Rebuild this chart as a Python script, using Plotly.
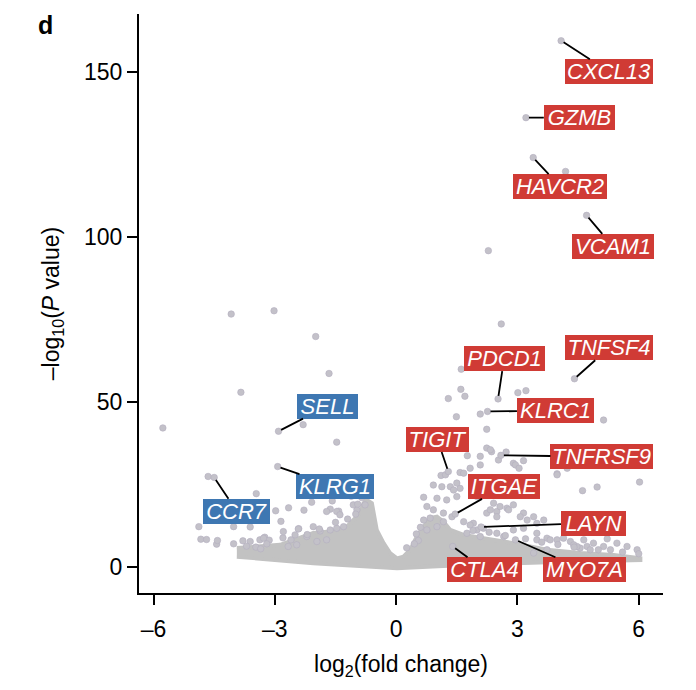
import plotly.graph_objects as go

# ---------------- data ----------------
# dense background cloud of non-significant genes (outline: upper edge then lower edge)
cloud_x = [-3.94, -2.87, -2.05, -1.63, -1.22, -0.89, -0.81, -0.73, -0.60, -0.54, -0.48, -0.31,
           -0.15, 0.02, 0.18, 0.35, 0.51, 0.68, 0.84, 1.01, 1.17, 1.34, 1.67, 2.16, 2.90, 3.73,
           4.55, 5.38, 6.04, 6.04, 4.14, 1.67, 0.02, -2.05, -3.94]
cloud_y = [5.7, 6.7, 10.3, 10.7, 12.2, 16.3, 19.3, 20.3, 19.3, 15.2, 11.2, 7.2,
           4.2, 2.6, 3.1, 5.2, 9.2, 12.2, 14.8, 15.2, 13.7, 11.2, 9.7, 8.7, 7.2, 5.2,
           4.2, 3.6, 2.6, 2.1, 1.6, 0.6, -0.4, 1.1, 3.1]

# individual genes (log2 fold change, -log10 P)
gene_x = [4.19, 2.28, 2.60, 1.61, 1.60, 1.70, 1.29, 3.01, 3.21, 2.08, 1.49, 5.13, 2.24, 2.24,
          2.36, 2.72, 2.08, 1.76, 1.11, 1.22, 1.58, 2.90, 3.15, 3.98, 6.02, 4.61, 4.97, 0.68,
          0.92, 1.01, 1.25, 1.50, 1.34, 1.58, 2.24, 2.49, 2.74, 2.90, 3.15, 3.40, 2.90, 3.15,
          3.48, 3.73, 5.22, 4.55, 4.72, 4.80, 2.95, 3.04, 2.33, 2.53, 2.08, 1.83, 1.67, 1.50,
          1.42, 1.13, 0.76, 0.92, 2.00, 2.20, 2.41, 2.33, 2.49, 2.57, 2.78, 3.07, 3.24, 3.48,
          3.65, 3.98, 4.14, 4.31, 4.47, 4.88, 5.13, 5.30, 3.40, 3.73, 3.48, 2.66, 2.49, 1.91,
          1.75, 2.08, 0.68, 0.84, 0.76, 1.01, 1.17, 1.17, 1.38, 1.67, 1.83, 2.00, 2.16, 3.81,
          4.39, 4.64, 5.46, 5.71, 5.96, 3.98, 4.23,
          0.50, 0.60, 0.55, 0.45, 1.90, 2.30, 2.70, 3.20, 3.60, 4.00, 4.40, 5.00, 5.60, 6.00,
          -4.08, -3.02, -1.99, -1.66, -3.84, -5.77, -2.30, -1.47, -4.65, -3.46, -4.88, -2.98,
          -2.66, -2.28, -2.85, -2.09, -1.58, -1.11, -4.83, -4.69, -4.44, -4.42, -4.02, -3.79,
          -4.02, -3.61, -3.47, -3.35, -3.37, -3.25, -3.14, -2.80, -2.41, 0.26, -1.63, -1.42,
          -3.61, -3.28, -2.79, -2.42, -2.05, -1.88, -1.63, -1.47, -1.30, -1.72, -1.47, -1.39,
          -0.97, -0.77, -1.06, -2.67, -2.46, -2.50, -2.21, -1.96, -1.72,
          -3.70, -3.20, -2.60, -2.20, -1.90, -1.50, -1.20, -1.00, -0.95, -0.85]
gene_y = [119.8, 95.8, 73.6, 59.9, 53.8, 51.7, 51.0, 52.8, 53.4, 46.3, 45.5, 44.5, 41.7, 36.0,
          34.9, 34.8, 33.5, 33.7, 27.7, 27.9, 28.6, 31.4, 32.2, 28.2, 25.7, 23.1, 24.2, 21.1,
          24.8, 20.8, 20.3, 21.3, 24.3, 23.8, 16.3, 16.8, 17.8, 18.8, 16.3, 15.2, 11.2, 11.7,
          10.2, 8.7, 8.5, 5.7, 6.2, 5.2, 30.9, 29.9, 35.5, 32.4, 30.9, 29.9, 28.4, 25.4,
          23.3, 24.3, 18.3, 17.3, 21.3, 22.3, 19.3, 17.3, 15.2, 18.3, 17.3, 15.2, 14.2, 13.2,
          14.2, 8.2, 8.7, 7.7, 6.2, 7.2, 6.2, 5.2, 4.2, 5.2, 8.2, 9.2, 10.2, 13.2,
          10.2, 9.2, 14.2, 14.8, 11.2, 12.2, 13.7, 16.3, 15.2, 13.7, 12.7, 11.2, 11.7, 8.2,
          6.7, 8.2, 7.2, 6.2, 5.2, 27.9, 29.9,
          10.0, 12.0, 8.0, 7.0, 11.0, 10.5, 9.5, 8.5, 7.5, 6.8, 6.0, 5.2, 4.5, 4.0,
          76.6, 77.6, 69.8, 58.6, 52.9, 42.1, 43.1, 37.8, 27.4, 22.2, 12.2, 17.0,
          17.9, 17.2, 13.8, 19.6, 20.0, 21.4, 8.4, 8.3, 6.9, 8.0, 7.0, 7.9,
          12.2, 12.1, 6.0, 5.5, 8.2, 9.0, 8.1, 8.8, 11.6, 5.8, 17.5, 16.9,
          7.7, 8.7, 10.7, 11.5, 12.2, 10.9, 11.2, 11.7, 12.2, 16.8, 16.8, 15.8,
          17.3, 18.8, 18.8, 6.2, 6.7, 9.7, 9.2, 7.7, 8.2,
          6.3, 7.0, 8.2, 9.8, 11.5, 13.5, 14.5, 16.0, 19.0, 21.0]

# highlighted genes
hl_names = ["CXCL13", "GZMB", "HAVCR2", "VCAM1", "PDCD1", "TNFSF4", "KLRC1", "TIGIT",
            "TNFRSF9", "ITGAE", "LAYN", "CTLA4", "MYO7A", "SELL", "KLRG1", "CCR7"]
hl_x = [4.08, 3.21, 3.39, 4.71, 2.52, 4.41, 2.26, 1.29, 2.59, 1.46, 2.10, 1.40, 2.95,
        -2.91, -2.93, -4.50]
hl_y = [159.4, 136.1, 124.0, 106.5, 50.9, 57.0, 47.1, 28.9, 33.8, 16.0, 12.1, 6.2, 8.2,
        41.1, 30.4, 27.1]

x_ticks = [-6, -3, 0, 3, 6]
x_ticktext = ["\u20136", "\u20133", "0", "3", "6"]
y_ticks = [0, 50, 100, 150]
y_ticktext = ["0", "50", "100", "150"]

# ---------------- layout / style ----------------
# label box centres (placement of the text labels)
LABEL_POS = {
    "CXCL13": (5.27, 150.0), "GZMB": (4.53, 136.1), "HAVCR2": (4.06, 115.2),
    "VCAM1": (5.36, 97.1), "PDCD1": (2.67, 63.1), "TNFSF4": (5.27, 66.4),
    "KLRC1": (3.94, 47.3), "TIGIT": (1.02, 38.6), "TNFRSF9": (5.09, 33.4),
    "ITGAE": (2.67, 24.4), "LAYN": (4.88, 13.3), "CTLA4": (2.19, -0.85),
    "MYO7A": (4.65, -0.85), "SELL": (-1.70, 48.7), "KLRG1": (-1.51, 24.3),
    "CCR7": (-3.94, 16.9),
}
# label box widths in px
LABEL_W = {
    "CXCL13": 88, "GZMB": 71, "HAVCR2": 94, "VCAM1": 82, "PDCD1": 81, "TNFSF4": 88,
    "KLRC1": 77, "TIGIT": 63, "TNFRSF9": 103, "ITGAE": 72, "LAYN": 65, "CTLA4": 75,
    "MYO7A": 83, "SELL": 61, "KLRG1": 78, "CCR7": 67,
}
LABEL_H = 25
RED = "#D03B35"
BLUE = "#3E77B2"
FONT = "Liberation Sans, Arial, Helvetica, sans-serif"
PT_COLOR = "#C3C1C9"
PT_LINE = "#B3AFC0"

fig = go.Figure()
fig.add_trace(go.Scatter(x=cloud_x, y=cloud_y, mode="lines", fill="toself",
                         fillcolor="#C2C2C2", line=dict(color="#C2C2C2", width=4),
                         hoverinfo="skip", showlegend=False))
fig.add_trace(go.Scatter(x=gene_x, y=gene_y, mode="markers",
                         marker=dict(size=6.5, color=PT_COLOR, line=dict(color=PT_LINE, width=0.6)),
                         showlegend=False))
fig.add_trace(go.Scatter(x=hl_x, y=hl_y, mode="markers",
                         marker=dict(size=6.5, color=PT_COLOR, line=dict(color=PT_LINE, width=0.6)),
                         showlegend=False))

annotations = []
for name, gx, gy in zip(hl_names, hl_x, hl_y):
    lx, ly = LABEL_POS[name]
    col = BLUE if gx < 0 else RED
    annotations.append(dict(
        x=gx, y=gy, xref="x", yref="y", ax=lx, ay=ly, axref="x", ayref="y",
        text="<i>%s</i>" % name, showarrow=True, arrowhead=0, arrowwidth=1.8,
        arrowcolor="black", standoff=3,
        width=LABEL_W[name], height=LABEL_H, align="center", valign="middle",
        font=dict(family=FONT, size=22, color="white"),
        bgcolor=col, bordercolor=col, borderwidth=0, borderpad=0,
    ))
annotations.append(dict(
    text="<b>d</b>", xref="paper", yref="paper", x=-0.197, y=1.008,
    xanchor="left", yanchor="top", showarrow=False,
    font=dict(family=FONT, size=25, color="black"),
))

# the page body adds an 8px offset, so margins are shifted accordingly
fig.update_layout(
    width=696, height=690,
    margin=dict(l=131, r=41, t=6, b=105, autoexpand=False),
    paper_bgcolor="white", plot_bgcolor="white",
    font=dict(family=FONT, size=23, color="black"),
    annotations=annotations,
    showlegend=False,
)
fig.update_xaxes(
    range=[-6.36, 6.6], tickmode="array", tickvals=x_ticks, ticktext=x_ticktext,
    showline=True, linecolor="black", linewidth=2, ticks="outside", ticklen=10,
    tickwidth=2, tickcolor="black", showgrid=False, zeroline=False,
    tickfont=dict(family=FONT, size=23), ticklabelstandoff=4,
    title=dict(text="log<sub>2</sub>(fold change)", font=dict(family=FONT, size=23), standoff=15),
)
fig.update_yaxes(
    range=[-7.9, 167.5], tickmode="array", tickvals=y_ticks, ticktext=y_ticktext,
    showline=True, linecolor="black", linewidth=2, ticks="outside", ticklen=10,
    tickwidth=2, tickcolor="black", showgrid=False, zeroline=False,
    tickfont=dict(family=FONT, size=23), ticklabelstandoff=0,
    title=dict(text="\u2013log<sub>10</sub>(<i>P</i> value)", font=dict(family=FONT, size=23), standoff=18),
)

fig.write_html("out.html")
